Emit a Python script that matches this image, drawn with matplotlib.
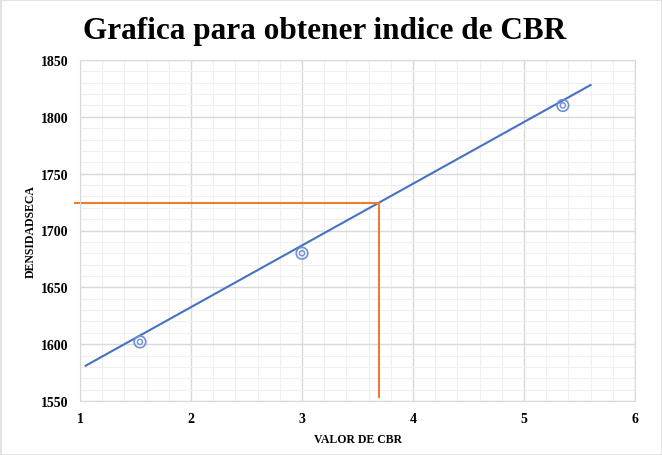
import numpy as np
import matplotlib.pyplot as plt
from matplotlib.ticker import MultipleLocator

plt.rcParams['font.family'] = ['Liberation Serif', 'DejaVu Serif']

# ensayo CBR: valor de CBR vs densidad seca
cbr = [1.54, 3.0, 5.35]
densidad = [1602, 1680, 1810]

# linea de tendencia (extremos)
trend_x = [1.05, 5.6]
trend_y = [1581, 1828]

# lectura del indice
cbr_leido = 3.69
dens_leida = 1724

fig = plt.figure(figsize=(6.62, 4.56), dpi=100)
fig.patch.set_edgecolor('#e3e3e3')
fig.patch.set_linewidth(2)
ax = fig.add_axes([80/662, 54/456, 555/662, 341/456])

ax.set_xlim(1, 6)
ax.set_ylim(1550, 1850)
ax.xaxis.set_major_locator(MultipleLocator(1))
ax.xaxis.set_minor_locator(MultipleLocator(0.2))
ax.yaxis.set_major_locator(MultipleLocator(50))
ax.yaxis.set_minor_locator(MultipleLocator(10))
ax.grid(which='major', color='#d9d9d9', lw=1)
ax.grid(which='minor', color='#f0f0f0', lw=0.8)
ax.set_axisbelow(True)
for s in ax.spines.values():
    s.set_color('#d9d9d9')
ax.tick_params(which='both', length=0, labelsize=10, pad=8)
for lbl in ax.get_xticklabels() + ax.get_yticklabels():
    lbl.set_fontweight('bold')

ax.plot(trend_x, trend_y, color='#4472C4', lw=1.5)
ax.plot([0.955, cbr_leido], [dens_leida, dens_leida], color='#ED7D31', lw=1.5, clip_on=False)
ax.plot([cbr_leido, cbr_leido], [1553.5, dens_leida], color='#ED7D31', lw=1.5)

ax.scatter(cbr, densidad, s=70, facecolors='none', edgecolors='#6f8fd8', linewidths=1.2, zorder=3)
ax.scatter(cbr, densidad, s=14, facecolors='none', edgecolors='#6f8fd8', linewidths=1.0, zorder=3)

ax.set_xlabel('VALOR DE CBR', fontsize=8.5, fontweight='bold', labelpad=6)
ax.set_ylabel('DENSIDADSECA', fontsize=8.5, fontweight='bold', labelpad=3)
fig.text(0.49, 0.93, 'Grafica para obtener indice de CBR', ha='center', va='center',
         fontsize=22.5, fontweight='bold')

fig.savefig('out.png', dpi=100)
